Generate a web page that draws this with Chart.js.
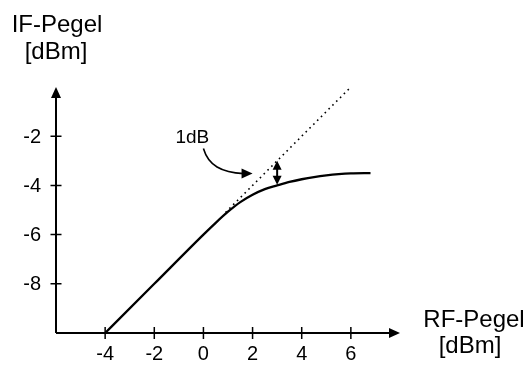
<!DOCTYPE html>
<html>
<head>
<meta charset="utf-8">
<script src="https://cdn.jsdelivr.net/npm/chart.js@4/dist/chart.umd.min.js"></script>
<style>
  html, body { margin: 0; padding: 0; background: #fff; }
  #wrap { width: 526px; height: 365px; }
</style>
</head>
<body>
<div id="wrap"><canvas id="chart"></canvas></div>
<script>
// 1dB-Kompressionspunkt: IF-Pegel ueber RF-Pegel

const rfLevel = [-4, -2, 0, 0.5, 1, 1.5, 2, 2.5, 3, 3.5, 4, 4.5, 5, 5.5, 6, 6.8];
const ifLevel = [-10, -8, -6, -5.52, -5.07, -4.68, -4.38, -4.15, -4.0, -3.86, -3.75, -3.66, -3.59, -3.54, -3.51, -3.5];

// ideale (lineare) Kennlinie, gepunktet
const idealRf = [0.9, 6];
const idealIf = [-5.1, 0];

const xTicks = [-4, -2, 0, 2, 4, 6];
const yTicks = [-8, -6, -4, -2];

// 1dB Markierung
const markRf = 3;
const markTop = -3.0;
const markBottom = -3.97;

const fontName = '"Liberation Sans", Arial, Helvetica, sans-serif';

function toXY(xs, ys) {
  return xs.map((v, i) => ({ x: v, y: ys[i] }));
}

function arrowHead(ctx, tipX, tipY, angle, len, half) {
  ctx.save();
  ctx.translate(tipX, tipY);
  ctx.rotate(angle);
  ctx.beginPath();
  ctx.moveTo(0, 0);
  ctx.lineTo(-len, -half);
  ctx.lineTo(-len, half);
  ctx.closePath();
  ctx.fill();
  ctx.restore();
}

// Achsen, Ticks, Beschriftung und 1dB-Markierung
const axesPlugin = {
  id: 'axesPlugin',
  beforeDatasetsDraw(chart) {
    const { ctx, scales: { x, y } } = chart;
    const x0 = x.getPixelForValue(x.min);
    const y0 = y.getPixelForValue(y.min);
    const xEnd = x.getPixelForValue(x.max);
    const yEnd = y.getPixelForValue(y.max);

    ctx.save();
    ctx.strokeStyle = '#000';
    ctx.fillStyle = '#000';
    ctx.lineWidth = 2;

    // Achsenlinien
    ctx.beginPath();
    ctx.moveTo(x0, y0);
    ctx.lineTo(xEnd - 6, y0);
    ctx.moveTo(x0, y0);
    ctx.lineTo(x0, yEnd + 6);
    ctx.stroke();
    arrowHead(ctx, xEnd, y0, 0, 11, 5);
    arrowHead(ctx, x0, yEnd, -Math.PI / 2, 11, 5);

    // Ticks
    ctx.lineWidth = 1.5;
    ctx.beginPath();
    xTicks.forEach(v => {
      const px = x.getPixelForValue(v);
      ctx.moveTo(px, y0 - 6);
      ctx.lineTo(px, y0 + 6);
    });
    yTicks.forEach(v => {
      const py = y.getPixelForValue(v);
      ctx.moveTo(x0 - 5.5, py);
      ctx.lineTo(x0 + 5.5, py);
    });
    ctx.stroke();

    ctx.font = '20px ' + fontName;
    ctx.textAlign = 'center';
    ctx.textBaseline = 'alphabetic';
    xTicks.forEach(v => {
      ctx.fillText(String(v), x.getPixelForValue(v), y0 + 27);
    });
    ctx.textAlign = 'right';
    ctx.textBaseline = 'middle';
    yTicks.forEach(v => {
      ctx.fillText(String(v), x0 - 15, y.getPixelForValue(v) + 1);
    });

    // Achsentitel
    ctx.font = '24px ' + fontName;
    ctx.textAlign = 'center';
    ctx.textBaseline = 'alphabetic';
    ctx.fillText('IF-Pegel', x0 + 1, 32);
    ctx.fillText('[dBm]', x0, 59);
    ctx.fillText('RF-Pegel', xEnd + 74, y0 - 6);
    ctx.fillText('[dBm]', xEnd + 70, y0 + 20);
    ctx.restore();
  },
  afterDatasetsDraw(chart) {
    const { ctx, scales: { x, y } } = chart;
    ctx.save();
    ctx.strokeStyle = '#000';
    ctx.fillStyle = '#000';

    // Doppelpfeil 1dB
    const mx = x.getPixelForValue(markRf);
    const top = y.getPixelForValue(markTop);
    const bot = y.getPixelForValue(markBottom);
    ctx.lineWidth = 2;
    ctx.beginPath();
    ctx.moveTo(mx, top + 6);
    ctx.lineTo(mx, bot - 6);
    ctx.stroke();
    arrowHead(ctx, mx, top, -Math.PI / 2, 9, 4.5);
    arrowHead(ctx, mx, bot, Math.PI / 2, 9, 4.5);

    // Label und gebogener Pfeil
    ctx.font = '19px ' + fontName;
    ctx.textAlign = 'center';
    ctx.textBaseline = 'alphabetic';
    ctx.fillText('1dB', x.getPixelForValue(-0.45), y.getPixelForValue(-2.27));

    const sx = x.getPixelForValue(0), sy = y.getPixelForValue(-2.5);
    const tx = x.getPixelForValue(2.0), ty = y.getPixelForValue(-3.52);
    ctx.lineWidth = 1.6;
    ctx.beginPath();
    ctx.moveTo(sx, sy);
    ctx.bezierCurveTo(sx + 5, sy + 17, sx + 18, ty - 1, tx - 9, ty);
    ctx.stroke();
    arrowHead(ctx, tx, ty, 0, 11, 5);
    ctx.restore();
  }
};

new Chart(document.getElementById('chart'), {
  type: 'line',
  data: {
    datasets: [
      {
        label: 'IF-Pegel',
        data: toXY(rfLevel, ifLevel),
        borderColor: '#000',
        borderWidth: 2.3,
        pointRadius: 0,
        cubicInterpolationMode: 'monotone',
        fill: false,
        clip: false
      },
      {
        label: 'ideal',
        data: toXY(idealRf, idealIf),
        borderColor: '#000',
        borderWidth: 1.6,
        borderDash: [1.6, 3.8],
        pointRadius: 0,
        fill: false,
        clip: false
      }
    ]
  },
  options: {
    responsive: true,
    maintainAspectRatio: false,
    animation: false,
    events: [],
    layout: {
      padding: { left: 56, right: 126, top: 87, bottom: 32 }
    },
    plugins: {
      legend: { display: false },
      tooltip: { enabled: false }
    },
    scales: {
      x: { type: 'linear', min: -6, max: 8, display: false },
      y: { type: 'linear', min: -10, max: 0, display: false }
    }
  },
  plugins: [axesPlugin]
});
</script>
</body>
</html>
